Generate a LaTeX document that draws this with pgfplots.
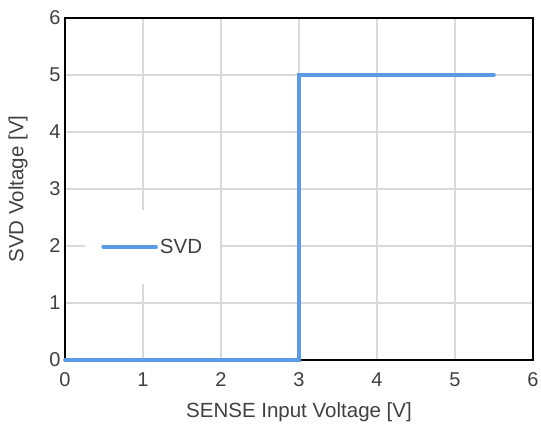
\documentclass[border=0pt]{standalone}
\usepackage{fontspec}
\setmainfont{Liberation Sans}
\usepackage{pgfplots}
\pgfplotsset{compat=1.18}
\definecolor{svdblue}{RGB}{91,155,229}
\definecolor{gridgray}{RGB}{217,217,217}
\definecolor{txtgray}{RGB}{64,64,64}
\begin{document}
\begin{tikzpicture}[x=1pt,y=1pt]
\begin{axis}[
    scale only axis,
    width=468pt, height=342pt,
    xmin=0, xmax=6, ymin=0, ymax=6,
    xtick={0,...,6}, ytick={0,...,6},
    grid=major,
    major grid style={gridgray, line width=1.2pt},
    axis line style={black, line width=1.5pt},
    major tick length=0pt,
    ticklabel style={font=\fontsize{20}{24}\selectfont, text=txtgray},
    /pgf/number format/assume math mode=true,
    xticklabel style={yshift=-9pt},
    yticklabel style={xshift=-1pt},
    label style={font=\fontsize{20.5}{24}\selectfont, text=txtgray},
    xlabel={SENSE Input Voltage [V]},
    ylabel={SVD Voltage [V]},
    xlabel style={at={(axis description cs:0.5,0)}, anchor=center, yshift=-52pt},
    ylabel style={at={(axis description cs:0,0.5)}, anchor=center, yshift=47pt},
    legend style={
        at={(0.043,0.4386)}, anchor=north west,
        draw=none, fill=white,
        inner xsep=16pt, inner ysep=27pt,
        font=\fontsize{20.5}{24}\selectfont, text=txtgray,
    },
    legend cell align=left,
    legend image code/.code={\draw[#1] (0pt,0pt) -- (53pt,0pt);},
    clip=false,
]
\addplot[svdblue, line width=3.6pt, line cap=round, line join=miter] coordinates {
    (0,0) (3,0) (3,5) (5.5,5)
};
\legend{SVD}
\end{axis}
\pgfresetboundingbox
\path[use as bounding box] (-65pt,-70pt) rectangle (476pt,360pt);
\end{tikzpicture}
\end{document}
